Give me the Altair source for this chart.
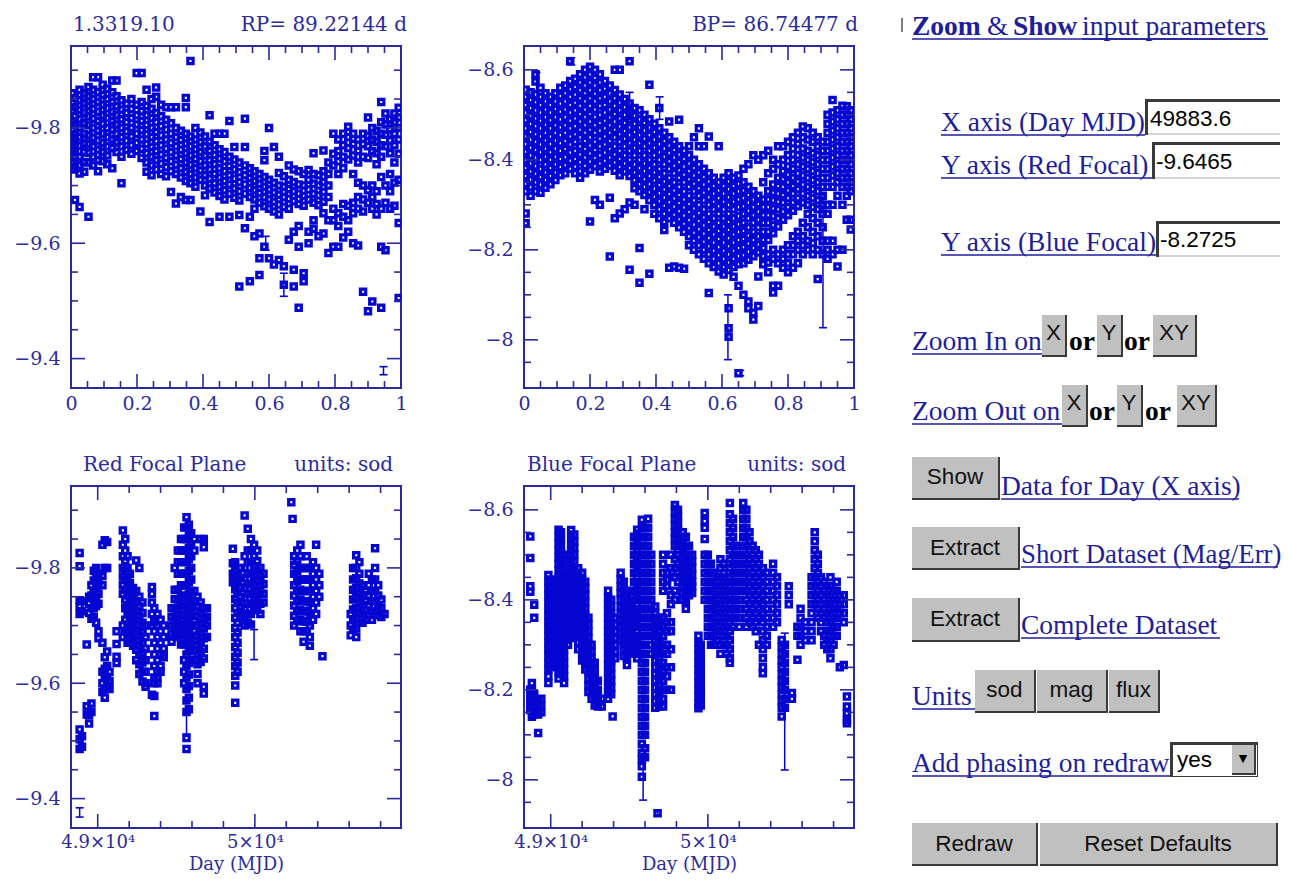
import altair as alt
import pandas as pd

# ---------------------------------------------------------------- data
# phased light curves: (phase, [magnitudes ...])
RED_PHASE = [
    (0.004, [-9.86, -9.845, -9.83, -9.812, -9.797, -9.783, -9.77, -9.756, -9.741, -9.728]),
    (0.012, [-9.852, -9.836, -9.82, -9.806, -9.79, -9.776, -9.762, -9.748, -9.733, -9.675]),
    (0.026, [-9.866, -9.848, -9.831, -9.815, -9.8, -9.784, -9.769, -9.75, -9.735, -9.721, -9.663]),
    (0.04, [-9.86, -9.843, -9.826, -9.808, -9.79, -9.773, -9.758, -9.741, -9.724]),
    (0.053, [-9.871, -9.855, -9.838, -9.82, -9.805, -9.787, -9.772, -9.757, -9.74, -9.646]),
    (0.067, [-9.888, -9.866, -9.85, -9.833, -9.816, -9.8, -9.783, -9.768, -9.75, -9.735]),
    (0.082, [-9.888, -9.862, -9.845, -9.828, -9.812, -9.795, -9.778, -9.762, -9.744, -9.725]),
    (0.096, [-9.875, -9.857, -9.84, -9.822, -9.807, -9.79, -9.774, -9.758, -9.742]),
    (0.11, [-9.868, -9.85, -9.834, -9.817, -9.8, -9.784, -9.768, -9.752, -9.737]),
    (0.125, [-9.882, -9.862, -9.845, -9.828, -9.812, -9.797, -9.78, -9.765, -9.73]),
    (0.138, [-9.882, -9.855, -9.838, -9.822, -9.806, -9.79, -9.775, -9.758]),
    (0.153, [-9.848, -9.832, -9.815, -9.8, -9.784, -9.768, -9.75, -9.704]),
    (0.168, [-9.842, -9.826, -9.81, -9.794, -9.778, -9.762]),
    (0.183, [-9.85, -9.833, -9.817, -9.8, -9.785, -9.77, -9.755]),
    (0.199, [-9.895, -9.84, -9.822, -9.806, -9.79, -9.774, -9.76]),
    (0.214, [-9.895, -9.845, -9.829, -9.812, -9.796, -9.78, -9.764, -9.748]),
    (0.229, [-9.866, -9.838, -9.822, -9.805, -9.789, -9.772, -9.756, -9.74, -9.724]),
    (0.244, [-9.85, -9.833, -9.817, -9.8, -9.784, -9.767, -9.75, -9.735, -9.718]),
    (0.258, [-9.87, -9.854, -9.826, -9.81, -9.793, -9.777, -9.76, -9.744, -9.728]),
    (0.273, [-9.84, -9.82, -9.803, -9.787, -9.77, -9.754, -9.738, -9.72]),
    (0.288, [-9.836, -9.814, -9.797, -9.78, -9.764, -9.748, -9.732, -9.716]),
    (0.303, [-9.836, -9.808, -9.79, -9.774, -9.758, -9.742, -9.725, -9.689]),
    (0.318, [-9.836, -9.8, -9.784, -9.768, -9.752, -9.736, -9.72, -9.669]),
    (0.333, [-9.795, -9.779, -9.762, -9.746, -9.73, -9.714, -9.68]),
    (0.348, [-9.852, -9.836, -9.79, -9.773, -9.756, -9.74, -9.724, -9.708, -9.675]),
    (0.362, [-9.916, -9.785, -9.768, -9.752, -9.736, -9.72, -9.704, -9.675]),
    (0.377, [-9.8, -9.78, -9.763, -9.746, -9.73, -9.714, -9.698]),
    (0.392, [-9.792, -9.775, -9.758, -9.742, -9.726, -9.71, -9.655]),
    (0.406, [-9.785, -9.768, -9.752, -9.735, -9.718, -9.7, -9.683]),
    (0.42, [-9.822, -9.776, -9.76, -9.744, -9.728, -9.712, -9.695, -9.637]),
    (0.435, [-9.79, -9.77, -9.753, -9.737, -9.72, -9.704, -9.688]),
    (0.45, [-9.79, -9.763, -9.747, -9.73, -9.714, -9.698, -9.682, -9.646]),
    (0.465, [-9.79, -9.758, -9.742, -9.725, -9.708, -9.692, -9.676]),
    (0.48, [-9.812, -9.75, -9.734, -9.718, -9.702, -9.686, -9.646]),
    (0.495, [-9.767, -9.745, -9.728, -9.712, -9.695, -9.679]),
    (0.51, [-9.74, -9.723, -9.706, -9.69, -9.674, -9.649, -9.525]),
    (0.527, [-9.816, -9.767, -9.735, -9.718, -9.702, -9.686, -9.626]),
    (0.542, [-9.73, -9.713, -9.696, -9.68, -9.646, -9.534]),
    (0.556, [-9.725, -9.708, -9.692, -9.676, -9.66, -9.612]),
    (0.571, [-9.72, -9.703, -9.687, -9.67, -9.617, -9.574, -9.545]),
    (0.586, [-9.76, -9.744, -9.715, -9.698, -9.68, -9.664, -9.594]),
    (0.6, [-9.8, -9.71, -9.693, -9.676, -9.66, -9.574]),
    (0.615, [-9.767, -9.705, -9.688, -9.672, -9.655, -9.563]),
    (0.63, [-9.75, -9.722, -9.7, -9.684, -9.667, -9.65, -9.571]),
    (0.645, [-9.716, -9.698, -9.68, -9.663, -9.528, -9.56]),
    (0.66, [-9.735, -9.71, -9.694, -9.677, -9.66, -9.606]),
    (0.675, [-9.728, -9.706, -9.69, -9.673, -9.62, -9.554, -9.525]),
    (0.69, [-9.725, -9.702, -9.686, -9.668, -9.63, -9.594, -9.488]),
    (0.705, [-9.72, -9.7, -9.682, -9.665, -9.548, -9.534]),
    (0.72, [-9.727, -9.71, -9.693, -9.676, -9.62, -9.6]),
    (0.735, [-9.756, -9.72, -9.703, -9.686, -9.67, -9.64, -9.625]),
    (0.75, [-9.718, -9.7, -9.683, -9.666, -9.612]),
    (0.765, [-9.761, -9.725, -9.706, -9.689, -9.672, -9.652, -9.617]),
    (0.78, [-9.74, -9.72, -9.7, -9.68, -9.64, -9.583]),
    (0.795, [-9.79, -9.755, -9.735, -9.66, -9.64, -9.594]),
    (0.81, [-9.78, -9.76, -9.742, -9.72, -9.652, -9.63, -9.594]),
    (0.825, [-9.79, -9.77, -9.75, -9.73, -9.668, -9.646, -9.61]),
    (0.84, [-9.802, -9.784, -9.765, -9.745, -9.665, -9.64, -9.62]),
    (0.855, [-9.79, -9.772, -9.752, -9.72, -9.67, -9.652, -9.6]),
    (0.87, [-9.78, -9.76, -9.74, -9.705, -9.68, -9.66, -9.596]),
    (0.885, [-9.79, -9.772, -9.75, -9.7, -9.676, -9.655, -9.516]),
    (0.9, [-9.818, -9.786, -9.768, -9.748, -9.692, -9.67, -9.482]),
    (0.913, [-9.8, -9.78, -9.76, -9.7, -9.68, -9.66, -9.499]),
    (0.926, [-9.795, -9.776, -9.756, -9.737, -9.69, -9.668, -9.65]),
    (0.94, [-9.845, -9.81, -9.79, -9.77, -9.75, -9.715, -9.66, -9.594, -9.488]),
    (0.953, [-9.825, -9.806, -9.788, -9.768, -9.7, -9.67, -9.588]),
    (0.967, [-9.815, -9.798, -9.778, -9.756, -9.72, -9.69, -9.66]),
    (0.98, [-9.825, -9.81, -9.79, -9.77, -9.74, -9.705, -9.665]),
    (0.993, [-9.835, -9.818, -9.8, -9.78, -9.755, -9.71, -9.635, -9.505]),
]

BLUE_PHASE = [
    (0.005, [-8.556, -8.54, -8.522, -8.505, -8.488, -8.47, -8.452, -8.435, -8.418, -8.4, -8.382, -8.364, -8.347, -8.33, -8.281, -8.259]),
    (0.02, [-8.55, -8.533, -8.515, -8.498, -8.48, -8.462, -8.445, -8.427, -8.41, -8.392, -8.374, -8.356, -8.339, -8.32]),
    (0.035, [-8.59, -8.574, -8.545, -8.528, -8.51, -8.492, -8.475, -8.457, -8.44, -8.422, -8.405, -8.386, -8.369, -8.35, -8.33]),
    (0.05, [-8.56, -8.54, -8.522, -8.505, -8.487, -8.47, -8.452, -8.434, -8.417, -8.4, -8.38, -8.362, -8.345, -8.327]),
    (0.065, [-8.548, -8.53, -8.512, -8.495, -8.478, -8.46, -8.443, -8.425, -8.407, -8.39, -8.372, -8.355, -8.338]),
    (0.08, [-8.54, -8.522, -8.505, -8.488, -8.47, -8.452, -8.435, -8.417, -8.4, -8.382, -8.364, -8.346]),
    (0.095, [-8.548, -8.53, -8.513, -8.495, -8.477, -8.46, -8.443, -8.425, -8.407, -8.39, -8.372, -8.355]),
    (0.11, [-8.56, -8.542, -8.525, -8.507, -8.49, -8.472, -8.455, -8.437, -8.42, -8.402, -8.384, -8.366]),
    (0.125, [-8.565, -8.548, -8.53, -8.512, -8.495, -8.477, -8.46, -8.442, -8.424, -8.406, -8.388, -8.37]),
    (0.14, [-8.619, -8.575, -8.557, -8.54, -8.522, -8.505, -8.487, -8.47, -8.452, -8.434, -8.416, -8.398, -8.38]),
    (0.155, [-8.58, -8.562, -8.545, -8.527, -8.51, -8.492, -8.475, -8.457, -8.44, -8.42, -8.402, -8.385, -8.37]),
    (0.17, [-8.59, -8.572, -8.555, -8.537, -8.52, -8.502, -8.485, -8.467, -8.45, -8.43, -8.412, -8.395, -8.375, -8.36]),
    (0.185, [-8.6, -8.583, -8.565, -8.548, -8.53, -8.512, -8.495, -8.477, -8.46, -8.442, -8.424, -8.405, -8.387, -8.37]),
    (0.2, [-8.607, -8.59, -8.572, -8.555, -8.537, -8.52, -8.502, -8.485, -8.467, -8.45, -8.432, -8.414, -8.396, -8.378, -8.263]),
    (0.215, [-8.6, -8.582, -8.565, -8.547, -8.53, -8.512, -8.495, -8.477, -8.46, -8.44, -8.422, -8.404, -8.386, -8.311]),
    (0.23, [-8.59, -8.572, -8.555, -8.537, -8.52, -8.5, -8.482, -8.465, -8.447, -8.43, -8.41, -8.392, -8.374, -8.3]),
    (0.245, [-8.575, -8.558, -8.54, -8.522, -8.505, -8.487, -8.47, -8.452, -8.434, -8.416, -8.398, -8.38]),
    (0.26, [-8.565, -8.548, -8.53, -8.512, -8.494, -8.477, -8.46, -8.442, -8.424, -8.405, -8.387, -8.316, -8.185]),
    (0.275, [-8.6, -8.555, -8.537, -8.52, -8.502, -8.485, -8.467, -8.45, -8.43, -8.412, -8.394, -8.376, -8.27]),
    (0.29, [-8.6, -8.545, -8.527, -8.51, -8.492, -8.474, -8.457, -8.44, -8.42, -8.402, -8.384, -8.366, -8.281]),
    (0.305, [-8.535, -8.517, -8.5, -8.482, -8.464, -8.447, -8.43, -8.41, -8.392, -8.374, -8.29]),
    (0.32, [-8.619, -8.525, -8.508, -8.49, -8.472, -8.455, -8.437, -8.42, -8.4, -8.382, -8.364, -8.305, -8.156]),
    (0.335, [-8.515, -8.498, -8.48, -8.462, -8.445, -8.427, -8.41, -8.39, -8.372, -8.355, -8.337, -8.3]),
    (0.35, [-8.51, -8.49, -8.472, -8.455, -8.437, -8.42, -8.4, -8.382, -8.364, -8.346, -8.33, -8.204, -8.127]),
    (0.365, [-8.5, -8.482, -8.465, -8.447, -8.43, -8.41, -8.392, -8.375, -8.357, -8.34, -8.322, -8.29]),
    (0.38, [-8.567, -8.49, -8.472, -8.455, -8.437, -8.42, -8.4, -8.382, -8.364, -8.346, -8.328, -8.31, -8.147]),
    (0.395, [-8.48, -8.462, -8.445, -8.427, -8.41, -8.39, -8.372, -8.354, -8.336, -8.318, -8.3, -8.28]),
    (0.41, [-8.515, -8.47, -8.452, -8.435, -8.417, -8.4, -8.38, -8.362, -8.344, -8.326, -8.308, -8.29, -8.27]),
    (0.425, [-8.46, -8.442, -8.425, -8.407, -8.39, -8.37, -8.352, -8.334, -8.316, -8.298, -8.28, -8.262, -8.244]),
    (0.44, [-8.485, -8.45, -8.432, -8.415, -8.397, -8.38, -8.36, -8.342, -8.324, -8.306, -8.288, -8.27, -8.16]),
    (0.455, [-8.44, -8.422, -8.405, -8.387, -8.37, -8.35, -8.332, -8.314, -8.296, -8.278, -8.26, -8.163]),
    (0.47, [-8.489, -8.43, -8.412, -8.395, -8.377, -8.36, -8.34, -8.322, -8.304, -8.286, -8.268, -8.25, -8.16]),
    (0.485, [-8.42, -8.402, -8.385, -8.367, -8.35, -8.33, -8.312, -8.294, -8.276, -8.258, -8.24, -8.158]),
    (0.5, [-8.43, -8.41, -8.392, -8.375, -8.357, -8.34, -8.32, -8.302, -8.284, -8.266, -8.248, -8.23, -8.21]),
    (0.515, [-8.45, -8.4, -8.382, -8.365, -8.347, -8.33, -8.31, -8.292, -8.274, -8.256, -8.238, -8.22, -8.2]),
    (0.53, [-8.47, -8.43, -8.39, -8.372, -8.355, -8.337, -8.32, -8.3, -8.282, -8.264, -8.246, -8.228, -8.21, -8.19]),
    (0.545, [-8.43, -8.38, -8.362, -8.345, -8.327, -8.31, -8.29, -8.272, -8.254, -8.236, -8.218, -8.2, -8.18]),
    (0.56, [-8.452, -8.37, -8.352, -8.335, -8.317, -8.3, -8.28, -8.262, -8.244, -8.226, -8.208, -8.19, -8.17, -8.104]),
    (0.575, [-8.36, -8.342, -8.325, -8.307, -8.29, -8.27, -8.252, -8.234, -8.216, -8.198, -8.18, -8.162]),
    (0.59, [-8.43, -8.35, -8.332, -8.315, -8.297, -8.28, -8.26, -8.242, -8.224, -8.206, -8.188, -8.17, -8.152]),
    (0.605, [-8.36, -8.342, -8.325, -8.307, -8.29, -8.27, -8.252, -8.234, -8.216, -8.198, -8.18, -8.162, -8.145]),
    (0.62, [-8.37, -8.352, -8.335, -8.317, -8.3, -8.28, -8.262, -8.244, -8.226, -8.208, -8.19, -8.172, -8.155, -8.07, -8.026, -8.007]),
    (0.635, [-8.36, -8.342, -8.325, -8.307, -8.29, -8.27, -8.252, -8.234, -8.216, -8.198, -8.18, -8.162, -8.14]),
    (0.65, [-8.365, -8.347, -8.33, -8.312, -8.295, -8.275, -8.257, -8.24, -8.222, -8.204, -8.186, -8.168, -8.12, -7.926]),
    (0.665, [-8.38, -8.35, -8.332, -8.315, -8.297, -8.28, -8.26, -8.242, -8.224, -8.206, -8.188, -8.17, -8.1]),
    (0.68, [-8.39, -8.34, -8.322, -8.305, -8.287, -8.27, -8.25, -8.232, -8.214, -8.196, -8.178, -8.085, -8.07]),
    (0.695, [-8.41, -8.33, -8.312, -8.295, -8.277, -8.26, -8.24, -8.222, -8.204, -8.186, -8.06, -8.045]),
    (0.71, [-8.4, -8.32, -8.302, -8.285, -8.267, -8.25, -8.23, -8.212, -8.194, -8.141, -8.075]),
    (0.725, [-8.41, -8.35, -8.312, -8.295, -8.277, -8.26, -8.24, -8.222, -8.204, -8.186, -8.168]),
    (0.74, [-8.42, -8.37, -8.33, -8.312, -8.295, -8.277, -8.26, -8.24, -8.222, -8.19, -8.172, -8.15]),
    (0.755, [-8.4, -8.38, -8.345, -8.327, -8.31, -8.292, -8.275, -8.255, -8.237, -8.2, -8.18, -8.12, -8.105]),
    (0.77, [-8.43, -8.39, -8.36, -8.342, -8.325, -8.307, -8.29, -8.27, -8.252, -8.19, -8.17, -8.12]),
    (0.785, [-8.43, -8.4, -8.375, -8.357, -8.34, -8.322, -8.305, -8.285, -8.267, -8.2, -8.18, -8.16]),
    (0.8, [-8.44, -8.41, -8.385, -8.367, -8.35, -8.332, -8.315, -8.295, -8.277, -8.21, -8.19, -8.17, -8.15]),
    (0.815, [-8.45, -8.425, -8.4, -8.38, -8.36, -8.342, -8.325, -8.305, -8.287, -8.23, -8.21, -8.19, -8.16]),
    (0.83, [-8.46, -8.435, -8.41, -8.39, -8.37, -8.352, -8.335, -8.315, -8.297, -8.24, -8.22, -8.2, -8.17]),
    (0.845, [-8.474, -8.45, -8.425, -8.405, -8.385, -8.365, -8.345, -8.325, -8.305, -8.26, -8.23, -8.21, -8.19]),
    (0.86, [-8.47, -8.445, -8.42, -8.4, -8.38, -8.36, -8.34, -8.32, -8.3, -8.28, -8.25, -8.22, -8.2]),
    (0.875, [-8.46, -8.44, -8.415, -8.395, -8.375, -8.355, -8.335, -8.315, -8.295, -8.27, -8.24, -8.215, -8.19]),
    (0.89, [-8.45, -8.43, -8.41, -8.39, -8.37, -8.35, -8.33, -8.31, -8.29, -8.26, -8.23, -8.2, -8.135]),
    (0.905, [-8.44, -8.42, -8.4, -8.38, -8.36, -8.34, -8.32, -8.3, -8.28, -8.25, -8.22, -8.19]),
    (0.92, [-8.5, -8.48, -8.46, -8.44, -8.42, -8.4, -8.38, -8.36, -8.34, -8.3, -8.28, -8.22, -8.2, -8.18]),
    (0.935, [-8.533, -8.505, -8.485, -8.465, -8.445, -8.425, -8.405, -8.385, -8.365, -8.34, -8.3, -8.22, -8.19]),
    (0.95, [-8.51, -8.49, -8.47, -8.45, -8.43, -8.41, -8.39, -8.37, -8.35, -8.32, -8.2, -8.163]),
    (0.965, [-8.52, -8.5, -8.48, -8.46, -8.44, -8.42, -8.4, -8.38, -8.36, -8.34, -8.3, -8.2]),
    (0.978, [-8.519, -8.5, -8.48, -8.46, -8.44, -8.42, -8.4, -8.38, -8.36, -8.34, -8.32, -8.267]),
    (0.99, [-8.51, -8.49, -8.47, -8.45, -8.43, -8.41, -8.39, -8.37, -8.35, -8.33, -8.267, -8.245]),
]

# light curves against time: (MJD, [magnitudes ...])
RED_TIME = [
    (48885, [-9.826, -9.803, -9.744, -9.733, -9.72, -9.52, -9.503, -9.486]),
    (48900, [-9.742, -9.725, -9.508, -9.49]),
    (48930, [-9.667, -9.56, -9.546]),
    (48945, [-9.75, -9.738, -9.722, -9.545, -9.53]),
    (48960, [-9.77, -9.752, -9.73, -9.712, -9.565, -9.55]),
    (48975, [-9.795, -9.778, -9.76, -9.745, -9.73, -9.715]),
    (48990, [-9.8, -9.783, -9.766, -9.75, -9.734, -9.705]),
    (49005, [-9.79, -9.772, -9.755, -9.738, -9.69, -9.678]),
    (49030, [-9.84, -9.786, -9.77, -9.67, -9.62, -9.6, -9.585]),
    (49045, [-9.848, -9.8, -9.645, -9.625, -9.61, -9.59, -9.575]),
    (49060, [-9.845, -9.8, -9.655, -9.63, -9.61, -9.595]),
    (49075, [-9.62, -9.604, -9.59]),
    (49120, [-9.69, -9.668, -9.646, -9.635]),
    (49160, [-9.865, -9.84, -9.82, -9.8, -9.785, -9.77, -9.755, -9.7, -9.68]),
    (49175, [-9.85, -9.83, -9.812, -9.795, -9.78, -9.762, -9.745, -9.73, -9.71, -9.69]),
    (49190, [-9.82, -9.8, -9.785, -9.77, -9.752, -9.735, -9.72, -9.702, -9.685, -9.67]),
    (49205, [-9.79, -9.774, -9.757, -9.74, -9.722, -9.705, -9.688, -9.67]),
    (49225, [-9.765, -9.748, -9.73, -9.713, -9.696, -9.68, -9.665]),
    (49245, [-9.813, -9.76, -9.742, -9.725, -9.708, -9.69, -9.675, -9.658, -9.64]),
    (49265, [-9.8, -9.75, -9.733, -9.716, -9.7, -9.683, -9.666, -9.65, -9.633, -9.616]),
    (49285, [-9.74, -9.722, -9.705, -9.688, -9.67, -9.653, -9.636, -9.62, -9.603]),
    (49305, [-9.7, -9.68, -9.66, -9.64, -9.62, -9.6, -9.594]),
    (49345, [-9.767, -9.755, -9.74, -9.72, -9.7, -9.58]),
    (49360, [-9.73, -9.706, -9.69, -9.67, -9.65, -9.63, -9.61, -9.6, -9.578, -9.543]),
    (49380, [-9.72, -9.7, -9.68, -9.66, -9.64, -9.62, -9.6, -9.61]),
    (49400, [-9.71, -9.69, -9.67, -9.65, -9.63, -9.62]),
    (49420, [-9.7, -9.68, -9.66, -9.645]),
    (49470, [-9.73, -9.715, -9.7, -9.686, -9.672]),
    (49490, [-9.8, -9.762, -9.746, -9.73, -9.714, -9.698, -9.682]),
    (49510, [-9.83, -9.81, -9.79, -9.762, -9.745, -9.728, -9.712, -9.696, -9.68]),
    (49530, [-9.85, -9.83, -9.81, -9.79, -9.77, -9.752, -9.735, -9.718, -9.7, -9.684, -9.667]),
    (49550, [-9.87, -9.85, -9.83, -9.81, -9.79, -9.77, -9.75, -9.735, -9.718, -9.7, -9.684, -9.667, -9.64, -9.62, -9.6]),
    (49565, [-9.888, -9.87, -9.85, -9.83, -9.81, -9.79, -9.77, -9.75, -9.73, -9.71, -9.69, -9.67, -9.65, -9.63, -9.61, -9.59, -9.57, -9.55, -9.505, -9.486]),
    (49580, [-9.875, -9.855, -9.835, -9.815, -9.795, -9.775, -9.755, -9.735, -9.715, -9.695, -9.675, -9.655, -9.635, -9.615, -9.595, -9.575, -9.555]),
    (49595, [-9.86, -9.84, -9.82, -9.8, -9.78, -9.76, -9.74, -9.72, -9.7, -9.68, -9.66, -9.64]),
    (49615, [-9.85, -9.83, -9.76, -9.742, -9.725, -9.708, -9.69, -9.674, -9.657, -9.64]),
    (49635, [-9.75, -9.733, -9.716, -9.7, -9.683, -9.666, -9.65, -9.633, -9.616, -9.6]),
    (49655, [-9.85, -9.74, -9.722, -9.705, -9.688, -9.671, -9.654, -9.637]),
    (49675, [-9.85, -9.836, -9.73, -9.712, -9.695, -9.678, -9.66, -9.643, -9.594, -9.582]),
    (49695, [-9.73, -9.715, -9.7, -9.68]),
    (49860, [-9.833, -9.808, -9.79, -9.775]),
    (49875, [-9.81, -9.795, -9.78, -9.763, -9.746, -9.73, -9.713, -9.696, -9.68, -9.663, -9.646, -9.63, -9.613, -9.596, -9.566]),
    (49890, [-9.79, -9.775, -9.758, -9.74, -9.722, -9.705, -9.688, -9.67, -9.653, -9.636, -9.62]),
    (49910, [-9.8, -9.783, -9.766, -9.75, -9.733, -9.716]),
    (49935, [-9.891, -9.82, -9.8, -9.782, -9.765, -9.748, -9.73, -9.714, -9.7]),
    (49955, [-9.868, -9.83, -9.81, -9.79, -9.772, -9.755, -9.738, -9.72, -9.705]),
    (49975, [-9.85, -9.83, -9.81, -9.79, -9.772, -9.755, -9.738, -9.72, -9.702]),
    (49995, [-9.84, -9.82, -9.8, -9.785, -9.768, -9.75, -9.73]),
    (50015, [-9.83, -9.812, -9.795, -9.778, -9.76, -9.744, -9.727]),
    (50035, [-9.8, -9.785, -9.77, -9.755, -9.738, -9.72]),
    (50055, [-9.79, -9.772, -9.755, -9.74]),
    (50232, [-9.914]),
    (50240, [-9.885]),
    (50250, [-9.82, -9.805, -9.79, -9.77, -9.752, -9.735, -9.717, -9.7]),
    (50270, [-9.83, -9.812, -9.795, -9.777, -9.76, -9.742, -9.725, -9.708]),
    (50290, [-9.84, -9.82, -9.8, -9.78, -9.762, -9.745, -9.727, -9.71, -9.69]),
    (50310, [-9.8, -9.78, -9.76, -9.742, -9.725, -9.707, -9.69, -9.672]),
    (50330, [-9.82, -9.8, -9.78, -9.76, -9.742, -9.725, -9.707, -9.69]),
    (50350, [-9.8, -9.78, -9.76, -9.74, -9.72, -9.7, -9.68, -9.665]),
    (50370, [-9.81, -9.79, -9.77, -9.75, -9.73, -9.71]),
    (50390, [-9.84, -9.8, -9.78, -9.76, -9.74, -9.72]),
    (50410, [-9.79, -9.77, -9.75]),
    (50430, [-9.647]),
    (50610, [-9.72, -9.7, -9.683]),
    (50625, [-9.8, -9.78, -9.762, -9.745, -9.728, -9.71, -9.693]),
    (50645, [-9.822, -9.8, -9.782, -9.765, -9.748, -9.73, -9.712, -9.695, -9.68]),
    (50665, [-9.81, -9.79, -9.773, -9.756, -9.74, -9.722, -9.705]),
    (50685, [-9.77, -9.753, -9.736, -9.72, -9.705]),
    (50705, [-9.76, -9.743, -9.726, -9.71]),
    (50725, [-9.79, -9.77, -9.752, -9.735, -9.718]),
    (50745, [-9.78, -9.76, -9.742, -9.725, -9.71]),
    (50765, [-9.834, -9.8, -9.78, -9.76, -9.742, -9.725]),
    (50785, [-9.77, -9.752, -9.735, -9.718]),
    (50805, [-9.745, -9.73, -9.715]),
    (50825, [-9.72]),
]

BLUE_TIME = [
    (48870, [-8.541, -8.493, -8.43, -8.418, -8.2, -8.185, -8.17, -8.155]),
    (48880, [-8.215, -8.2, -8.185, -8.17, -8.155, -8.14]),
    (48895, [-8.389, -8.36, -8.19, -8.175, -8.16, -8.145]),
    (48920, [-8.176, -8.16, -8.145, -8.104]),
    (48940, [-8.18, -8.165, -8.15]),
    (48985, [-8.455, -8.44, -8.425, -8.41, -8.395, -8.38, -8.365, -8.35, -8.335, -8.32, -8.305, -8.29, -8.275, -8.26, -8.245, -8.23, -8.215]),
    (49000, [-8.445, -8.43, -8.415, -8.4, -8.385, -8.37, -8.355, -8.34, -8.325, -8.31, -8.295, -8.28, -8.265, -8.25]),
    (49015, [-8.42, -8.4, -8.38, -8.36, -8.34, -8.32, -8.3]),
    (49050, [-8.556, -8.54, -8.525, -8.51, -8.495, -8.48, -8.465, -8.45, -8.435, -8.42, -8.405, -8.39, -8.375, -8.36, -8.345, -8.33, -8.315, -8.3, -8.285, -8.27, -8.255, -8.24, -8.225]),
    (49065, [-8.55, -8.535, -8.52, -8.505, -8.49, -8.475, -8.46, -8.445, -8.43, -8.415, -8.4, -8.385, -8.37, -8.355, -8.34, -8.325, -8.31, -8.295, -8.28, -8.265, -8.25, -8.235]),
    (49085, [-8.5, -8.485, -8.47, -8.455, -8.44, -8.425, -8.41, -8.395, -8.38, -8.365, -8.35, -8.335, -8.32, -8.305, -8.29, -8.275, -8.26, -8.245, -8.23, -8.215]),
    (49110, [-8.45, -8.435, -8.42, -8.405, -8.39, -8.375, -8.36, -8.345, -8.33, -8.315, -8.3]),
    (49130, [-8.555, -8.54, -8.525, -8.51, -8.495, -8.48, -8.465, -8.45, -8.435, -8.42, -8.405, -8.39, -8.375, -8.36, -8.345, -8.33, -8.315]),
    (49150, [-8.545, -8.53, -8.515, -8.5, -8.485, -8.47, -8.455, -8.44, -8.425, -8.41, -8.395, -8.38, -8.365, -8.35, -8.335, -8.32]),
    (49175, [-8.47, -8.455, -8.44, -8.425, -8.41, -8.395, -8.38, -8.365, -8.35, -8.335, -8.32, -8.305, -8.29]),
    (49200, [-8.46, -8.445, -8.43, -8.415, -8.4, -8.385, -8.37, -8.355, -8.34, -8.325, -8.31, -8.295, -8.28, -8.265]),
    (49220, [-8.44, -8.425, -8.41, -8.395, -8.38, -8.365, -8.35, -8.335, -8.32, -8.305, -8.29, -8.275, -8.26, -8.245]),
    (49240, [-8.36, -8.345, -8.33, -8.315, -8.3, -8.285, -8.27, -8.255, -8.24, -8.225, -8.21, -8.195]),
    (49260, [-8.3, -8.285, -8.27, -8.255, -8.24, -8.225, -8.21, -8.195, -8.18]),
    (49280, [-8.26, -8.245, -8.23, -8.215, -8.2, -8.185, -8.165]),
    (49300, [-8.22, -8.2, -8.185, -8.17, -8.163]),
    (49325, [-8.18, -8.163]),
    (49365, [-8.42, -8.405, -8.39, -8.375, -8.36, -8.345, -8.33, -8.315, -8.3, -8.285, -8.27, -8.255, -8.24, -8.225, -8.21, -8.195, -8.18]),
    (49385, [-8.4, -8.385, -8.37, -8.355, -8.34, -8.325, -8.31, -8.295, -8.28, -8.265, -8.25, -8.235, -8.22, -8.205, -8.19]),
    (49394, [-8.141]),
    (49410, [-8.36, -8.345, -8.33, -8.315, -8.3, -8.285, -8.27]),
    (49445, [-8.46, -8.445, -8.43, -8.415, -8.4, -8.385, -8.37, -8.355, -8.34, -8.325, -8.31]),
    (49465, [-8.44, -8.425, -8.41, -8.395, -8.38, -8.365, -8.35, -8.335, -8.32, -8.305, -8.29, -8.275]),
    (49485, [-8.42, -8.405, -8.39, -8.375, -8.36, -8.345, -8.33, -8.315, -8.3, -8.285, -8.27, -8.255]),
    (49505, [-8.4, -8.385, -8.37, -8.355, -8.34, -8.325, -8.31, -8.295, -8.28]),
    (49530, [-8.54, -8.52, -8.5, -8.48, -8.46, -8.44, -8.42, -8.4, -8.38, -8.36, -8.34, -8.32, -8.3, -8.28]),
    (49550, [-8.556, -8.54, -8.525, -8.51, -8.495, -8.48, -8.465, -8.45, -8.435, -8.42, -8.405, -8.39, -8.375, -8.36, -8.345, -8.33, -8.315, -8.3, -8.285, -8.27]),
    (49580, [-8.578, -8.56, -8.54, -8.52, -8.5, -8.48, -8.46, -8.44, -8.42, -8.4, -8.38, -8.36, -8.34, -8.32, -8.3, -8.28, -8.26, -8.24, -8.22, -8.2, -8.18, -8.16, -8.14, -8.12, -8.1, -8.08, -8.06, -8.045, -8.03, -8.007]),
    (49600, [-8.56, -8.54, -8.52, -8.5, -8.48, -8.46, -8.44, -8.42, -8.4, -8.38, -8.36, -8.34, -8.32, -8.3, -8.28, -8.26, -8.24, -8.22, -8.2, -8.18, -8.16, -8.14, -8.12, -8.1, -8.07, -8.05]),
    (49620, [-8.58, -8.56, -8.54, -8.52, -8.5, -8.48, -8.46, -8.44, -8.42, -8.4, -8.38, -8.36, -8.34, -8.32]),
    (49640, [-8.5, -8.48, -8.46, -8.44, -8.42, -8.4, -8.38, -8.36, -8.34, -8.32, -8.3, -8.28]),
    (49665, [-8.385, -8.37, -8.355, -8.34, -8.325, -8.31, -8.295, -8.28, -8.265, -8.25, -8.235, -8.22, -8.205, -8.19, -8.175, -8.16]),
    (49680, [-7.926]),
    (49690, [-8.36, -8.345, -8.33, -8.315, -8.3, -8.285, -8.27, -8.255, -8.24, -8.225, -8.21, -8.195, -8.18, -8.163]),
    (49715, [-8.5, -8.48, -8.46, -8.44, -8.42, -8.36, -8.34, -8.32, -8.3, -8.28, -8.26, -8.24, -8.22, -8.2, -8.18, -8.163]),
    (49740, [-8.46, -8.445, -8.43, -8.37, -8.35, -8.33, -8.3, -8.28, -8.25, -8.23, -8.2]),
    (49765, [-8.5, -8.47, -8.41, -8.39, -8.35, -8.33, -8.29, -8.25, -8.2]),
    (49790, [-8.611, -8.595, -8.58, -8.565, -8.55, -8.535, -8.52, -8.49, -8.47, -8.45, -8.42, -8.4]),
    (49810, [-8.6, -8.585, -8.57, -8.555, -8.54, -8.525, -8.51, -8.5, -8.48, -8.46, -8.44]),
    (49840, [-8.55, -8.535, -8.52, -8.505, -8.49, -8.475, -8.46, -8.445, -8.43, -8.415, -8.4]),
    (49860, [-8.54, -8.52, -8.5, -8.485, -8.47, -8.455, -8.44, -8.425, -8.41, -8.395, -8.38]),
    (49880, [-8.52, -8.5, -8.485, -8.47, -8.455, -8.44, -8.425, -8.41]),
    (49900, [-8.5, -8.485, -8.47, -8.455, -8.44, -8.43, -8.415]),
    (49940, [-8.32, -8.305, -8.29, -8.275, -8.26, -8.245, -8.23, -8.215, -8.2, -8.185, -8.17, -8.159]),
    (49955, [-8.3, -8.285, -8.27, -8.255, -8.24, -8.225, -8.21, -8.195, -8.18, -8.165]),
    (49980, [-8.593, -8.575, -8.56, -8.535, -8.5, -8.48, -8.46, -8.44, -8.42, -8.4]),
    (50000, [-8.5, -8.48, -8.46, -8.44, -8.42, -8.4, -8.38, -8.36, -8.34, -8.32]),
    (50020, [-8.48, -8.46, -8.44, -8.42, -8.4, -8.38, -8.36, -8.34, -8.32, -8.3]),
    (50040, [-8.46, -8.44, -8.42, -8.4, -8.38, -8.36, -8.34, -8.32, -8.3]),
    (50060, [-8.45, -8.43, -8.41, -8.39, -8.37, -8.35, -8.33, -8.31]),
    (50080, [-8.49, -8.47, -8.45, -8.43, -8.41, -8.39, -8.37, -8.35, -8.33, -8.3, -8.28]),
    (50100, [-8.48, -8.46, -8.44, -8.42, -8.4, -8.38, -8.36, -8.34, -8.32, -8.3]),
    (50120, [-8.44, -8.42, -8.4, -8.38, -8.36, -8.34, -8.32, -8.3, -8.28]),
    (50140, [-8.615, -8.59, -8.57, -8.55, -8.53, -8.51, -8.49, -8.47, -8.45, -8.43, -8.41, -8.39, -8.37, -8.35, -8.33, -8.31, -8.29, -8.27, -8.26]),
    (50160, [-8.58, -8.56, -8.54, -8.52, -8.5, -8.48, -8.46, -8.44, -8.42, -8.4, -8.38, -8.36, -8.34]),
    (50180, [-8.52, -8.5, -8.48, -8.46, -8.44, -8.42, -8.4, -8.38, -8.36]),
    (50200, [-8.5, -8.48, -8.46, -8.44, -8.42, -8.4, -8.38, -8.36, -8.34]),
    (50225, [-8.615, -8.6, -8.58, -8.56, -8.54, -8.52, -8.5, -8.48, -8.46, -8.44, -8.42]),
    (50245, [-8.6, -8.58, -8.56, -8.54, -8.52, -8.5, -8.48, -8.46, -8.44, -8.42, -8.4, -8.38, -8.36, -8.34]),
    (50265, [-8.55, -8.53, -8.51, -8.49, -8.47, -8.45, -8.43, -8.41, -8.39, -8.37, -8.35]),
    (50285, [-8.52, -8.5, -8.48, -8.46, -8.44, -8.42, -8.4, -8.38, -8.36, -8.34]),
    (50305, [-8.51, -8.49, -8.47, -8.45, -8.43, -8.41, -8.39, -8.37, -8.35, -8.33]),
    (50325, [-8.5, -8.48, -8.46, -8.44, -8.42, -8.4, -8.38, -8.36, -8.3]),
    (50350, [-8.47, -8.45, -8.43, -8.41, -8.39, -8.37, -8.35, -8.33, -8.31, -8.29, -8.27, -8.25, -8.237]),
    (50375, [-8.46, -8.44, -8.42, -8.4, -8.38, -8.36, -8.34, -8.32, -8.3]),
    (50415, [-8.48, -8.46, -8.44, -8.42, -8.4, -8.38, -8.36, -8.34]),
    (50440, [-8.45, -8.43, -8.41, -8.39, -8.37, -8.35]),
    (50470, [-8.311, -8.295, -8.28, -8.265, -8.25, -8.235, -8.22, -8.205, -8.19, -8.175, -8.16, -8.141]),
    (50490, [-8.3, -8.28, -8.26, -8.24, -8.22, -8.2, -8.18, -8.16]),
    (50515, [-8.43, -8.41, -8.39]),
    (50535, [-8.193, -8.18]),
    (50570, [-8.267, -8.34, -8.32]),
    (50590, [-8.38, -8.36, -8.34, -8.32, -8.3]),
    (50620, [-8.35, -8.33, -8.31]),
    (50660, [-8.45, -8.43, -8.41, -8.39, -8.37, -8.35, -8.33, -8.31]),
    (50680, [-8.55, -8.53, -8.51, -8.49, -8.47, -8.45, -8.43, -8.41, -8.39]),
    (50700, [-8.5, -8.48, -8.46, -8.44, -8.42, -8.4, -8.38, -8.36]),
    (50720, [-8.45, -8.43, -8.41, -8.39, -8.37, -8.35, -8.33]),
    (50740, [-8.44, -8.42, -8.4, -8.38, -8.36, -8.32, -8.3]),
    (50760, [-8.43, -8.41, -8.39, -8.37, -8.35, -8.33, -8.31, -8.29]),
    (50780, [-8.45, -8.43, -8.41, -8.39, -8.37, -8.35, -8.33, -8.31, -8.29, -8.27]),
    (50800, [-8.42, -8.4, -8.38, -8.36, -8.34, -8.32, -8.3]),
    (50820, [-8.44, -8.42, -8.4, -8.38, -8.36, -8.34, -8.32]),
    (50840, [-8.41, -8.39, -8.37, -8.25]),
    (50865, [-8.41, -8.39, -8.37, -8.35, -8.255]),
    (50885, [-8.185, -8.163, -8.148, -8.133, -8.126]),
]

# error bars: (x, magnitude, error)
RED_PHASE_ERR = [(0.645, -9.528, 0.02), (0.947, -9.379, 0.007), (0.59, -9.6, 0.012)]
BLUE_PHASE_ERR = [(0.906, -8.175, 0.148), (0.618, -8.028, 0.072), (0.32, -8.52, 0.03),
                  (0.411, -8.515, 0.025), (0.038, -8.574, 0.02), (0.143, -8.619, 0.008),
                  (0.655, -7.926, 0.006)]
RED_TIME_ERR = [(49995, -9.667, 0.026), (49565, -9.53, 0.018), (48885, -9.376, 0.008)]
BLUE_TIME_ERR = [(49588, -8.0, 0.045), (50489, -8.174, 0.152), (50032, -8.37, 0.067),
                 (49550, -8.52, 0.035), (49680, -7.926, 0.006), (49792, -8.58, 0.03)]

# axes
PHASE_DOMAIN = [0, 1]
MJD_DOMAIN = [48830, 50930]
RED_DOMAIN = [-9.942, -9.349]
BLUE_DOMAIN = [-8.653, -7.893]
PHASE_MAJOR = [0, 0.2, 0.4, 0.6, 0.8, 1]
PHASE_MINOR = [0.05, 0.1, 0.15, 0.25, 0.3, 0.35, 0.45, 0.5, 0.55, 0.65, 0.7, 0.75, 0.85, 0.9, 0.95]
MJD_MAJOR = [49000, 50000]
MJD_MINOR = [49200, 49400, 49600, 49800, 50200, 50400, 50600, 50800]
MJD_LABELS = "datum.value < 49500 ? '4.9×10⁴' : '5×10⁴'"
RED_MAJOR = [-9.8, -9.6, -9.4]
RED_MINOR = [-9.9, -9.85, -9.75, -9.7, -9.65, -9.55, -9.5, -9.45]
BLUE_MAJOR = [-8.6, -8.4, -8.2, -8.0]
BLUE_MINOR = [-8.55, -8.5, -8.45, -8.35, -8.3, -8.25, -8.15, -8.1, -8.05, -7.95]

TITLES_A = [("1.3319.10", "left", 2), ("RP= 89.22144 d", "right", 336)]
TITLES_B = [("BP= 86.74477 d", "right", 334)]
TITLES_C = [("Red Focal Plane", "left", 12), ("units: sod", "right", 322)]
TITLES_D = [("Blue Focal Plane", "left", 3), ("units: sod", "right", 322)]
X_TITLE = "Day (MJD)"

# ----------------------------------------------------- form panel text
LINKS = [  # text, left, baseline, underline end, font size
    ("input parameters", 1082, 35, 1268, 27.5),
    ("X axis (Day MJD)", 941, 131, 1145, 27.5),
    ("Y axis (Red Focal)", 941, 174, 1152, 27.5),
    ("Y axis (Blue Focal)", 941, 251, 1156, 27.5),
    ("Zoom In on", 912, 350, 1042, 27.5),
    ("Zoom Out on", 912, 420, 1062, 27.5),
    ("Data for Day (X axis)", 1001, 495, 1239, 27.5),
    ("Short Dataset (Mag/Err)", 1021, 563, 1278, 26.8),
    ("Complete Dataset", 1021, 634, 1220, 27.5),
    ("Units", 912, 705, 975, 27.5),
    ("Add phasing on redraw", 912, 772, 1170, 27.5),
]
HEADER_BOLD = [("Zoom", 912, 35), ("Show", 1013, 35)]
HEADER_AMP = [("&", 987, 35, 0, 27.5)]
HEADER_LINE = [(912, 1268, 39)]
OR_WORDS = [("or", 1069, 350), ("or", 1124, 350), ("or", 1089, 420), ("or", 1145, 420)]
BUTTONS = [  # label, x, y, x2, y2, text centre y
    ("X", 1042, 315, 1067, 357, 333), ("Y", 1097, 315, 1123, 357, 333),
    ("XY", 1153, 315, 1197, 357, 333),
    ("X", 1062, 385, 1088, 427, 403), ("Y", 1117, 385, 1143, 427, 403),
    ("XY", 1177, 385, 1217, 427, 403),
    ("Show", 912, 457, 1000, 500, 477),
    ("Extract", 912, 527, 1020, 570, 548),
    ("Extract", 912, 598, 1020, 642, 619),
    ("sod", 975, 670, 1036, 713, 690), ("mag", 1037, 670, 1108, 713, 690),
    ("flux", 1109, 670, 1160, 713, 690),
    ("Redraw", 912, 823, 1038, 866, 844),
    ("Reset Defaults", 1040, 823, 1278, 866, 844),
]
INPUT_BOXES = [(1145, 99, 1280, 135), (1152, 142, 1280, 179), (1156, 221, 1280, 257)]
INPUT_TEXT = [("49883.6", 1150, 119), ("-9.6465", 1156, 162), ("-8.2725", 1160, 240), ("yes", 1177, 760)]
SELECT_BOX = (1170, 742, 1258, 777)
SELECT_ARROW = (1232, 745, 1256, 775)

# ------------------------------------------------------------- styling
W, H = 330, 342
FW = 300
PT = "#0606d2"
INK = "#2b2b9e"
LINK = "#1e1e9c"
SERIF = "DejaVu Serif"
DARK, FACE, LIGHT = "#3a3a3a", "#c0c0c0", "#d4d4d4"


def cloud(cols):
    return pd.DataFrame([{"x": x, "y": y} for x, ys in cols for y in ys])


def panel(cols, errs, xdom, ydom, xmaj, xmin, ymaj, ymin, xaxis, titles):
    sx = alt.Scale(domain=xdom, nice=False, zero=False)
    sy = alt.Scale(domain=ydom, nice=False, zero=False, reverse=True)
    yaxis = alt.Axis(values=ymaj, format="~g", ticks=False, domain=False, grid=False,
                     labelFont=SERIF, labelFontSize=19, labelColor=INK, labelPadding=11,
                     labelFlush=False, labelOverlap=False, title=None)
    XE = alt.X("x:Q", scale=sx, axis=xaxis)
    YE = alt.Y("y:Q", scale=sy, axis=yaxis)
    pts = alt.Chart(cloud(cols)).mark_point(
        shape="square", filled=False, color=PT, strokeWidth=3.2, size=28, opacity=1, clip=True
    ).encode(x=XE, y=YE)
    err_df = pd.DataFrame([{"x": x, "y": y - e, "y2": y + e} for x, y, e in errs])
    cap_df = pd.DataFrame([{"x": x, "x2": x, "y": v} for x, y, e in errs for v in (y - e, y + e)])
    bars = alt.Chart(err_df).mark_rule(color=PT, strokeWidth=1.5).encode(x=XE, y=YE, y2="y2:Q")
    caps = alt.Chart(cap_df).mark_rule(color=PT, strokeWidth=1.6, xOffset=-4, x2Offset=4).encode(
        x=XE, x2="x2:Q", y=YE)
    layers = [pts, bars, caps]
    for vals, L in ((xmaj, 14), (xmin, 7)):
        base = alt.Chart(pd.DataFrame({"x": vals})).mark_rule(color=INK, strokeWidth=1.6)
        layers.append(base.encode(x=XE, y=alt.value(H), y2=alt.value(H - L)))
        layers.append(base.encode(x=XE, y=alt.value(0), y2=alt.value(L)))
    for vals, L in ((ymaj, 14), (ymin, 7)):
        base = alt.Chart(pd.DataFrame({"y": vals})).mark_rule(color=INK, strokeWidth=1.6)
        layers.append(base.encode(y=YE, x=alt.value(0), x2=alt.value(L)))
        layers.append(base.encode(y=YE, x=alt.value(W), x2=alt.value(W - L)))
    for text, align, px in titles:
        layers.append(
            alt.Chart(pd.DataFrame({"t": [text]})).mark_text(
                align=align, baseline="middle", font=SERIF, fontSize=20, color=INK
            ).encode(x=alt.value(px), y=alt.value(-21), text="t:N"))
    return alt.layer(*layers).properties(
        width=W, height=H, view=alt.ViewBackground(stroke=INK, strokeWidth=2))


def phase_axis():
    return alt.Axis(values=PHASE_MAJOR, format="~g", ticks=False, domain=False, grid=False,
                    labelFont=SERIF, labelFontSize=19, labelColor=INK, labelPadding=6,
                    labelFlush=False, labelOverlap=False, title=None)


def time_axis():
    return alt.Axis(values=MJD_MAJOR, labelExpr=MJD_LABELS, ticks=False, domain=False, grid=False,
                    labelFont=SERIF, labelFontSize=18, labelColor=INK, labelPadding=5,
                    labelFlush=False, labelOverlap=False, title=X_TITLE, titleFont=SERIF,
                    titleFontSize=18, titleFontWeight="normal", titleColor=INK, titlePadding=4)


A = panel(RED_PHASE, RED_PHASE_ERR, PHASE_DOMAIN, RED_DOMAIN, PHASE_MAJOR, PHASE_MINOR,
          RED_MAJOR, RED_MINOR, phase_axis(), TITLES_A)
B = panel(BLUE_PHASE, BLUE_PHASE_ERR, PHASE_DOMAIN, BLUE_DOMAIN, PHASE_MAJOR, PHASE_MINOR,
          BLUE_MAJOR, BLUE_MINOR, phase_axis(), TITLES_B)
C = panel(RED_TIME, RED_TIME_ERR, MJD_DOMAIN, RED_DOMAIN, MJD_MAJOR, MJD_MINOR,
          RED_MAJOR, RED_MINOR, time_axis(), TITLES_C)
D = panel(BLUE_TIME, BLUE_TIME_ERR, MJD_DOMAIN, BLUE_DOMAIN, MJD_MAJOR, MJD_MINOR,
          BLUE_MAJOR, BLUE_MINOR, time_axis(), TITLES_D)

# ------------------------------------------------------------ form panel
# page coordinates, mapped onto the third grid cell (its plot area starts at 977, 46)
SXF = alt.Scale(domain=[977, 977 + FW], range=[0, FW])
SYF = alt.Scale(domain=[46, 388], range=[0, 342])
FX = alt.X("x:Q", scale=SXF, axis=None)
FY = alt.Y("y:Q", scale=SYF, axis=None)

rects = []
for x, y, x2, y2 in INPUT_BOXES:
    rects += [(x, y, x2, y2, DARK), (x + 3, y + 3, x2, y2, "white"), (x + 3, y2 - 2, x2, y2, LIGHT)]
sx0, sy0, sx1, sy1 = SELECT_BOX
rects += [(sx0, sy0, sx1, sy1, DARK), (sx0 + 3, sy0 + 3, sx1 - 1, sy1 - 1, "white")]
ax0, ay0, ax1, ay1 = SELECT_ARROW
rects += [(ax0, ay0, ax1, ay1, DARK), (ax0, ay0, ax1 - 2, ay1 - 2, FACE)]
for lab, x, y, x2, y2, ty in BUTTONS:
    rects += [(x, y, x2, y2, DARK), (x, y, x2 - 2, y2 - 2, FACE)]
rect_df = pd.DataFrame(rects, columns=["x", "y", "x2", "y2", "fill"])

spacer = alt.Chart(pd.DataFrame({"x": [8], "x2": [1280], "y": [8], "y2": [874]})).mark_rect(
    fill="white", fillOpacity=0, strokeWidth=0).encode(x=FX, x2="x2:Q", y=FY, y2="y2:Q")
rect_layer = alt.Chart(rect_df).mark_rect().encode(
    x=FX, x2="x2:Q", y=FY, y2="y2:Q", color=alt.Color("fill:N", scale=None))

lines = [(x, x2, y + 4) for t, x, y, x2, s in LINKS] + [(a, b, c) for a, b, c in HEADER_LINE]
line_df = pd.DataFrame(lines, columns=["x", "x2", "y"])
line_layer = alt.Chart(line_df).mark_rule(color=LINK, strokeWidth=1.5).encode(x=FX, x2="x2:Q", y=FY)
bar_layer = alt.Chart(pd.DataFrame({"x": [902], "y": [18], "y2": [32]})).mark_rule(
    color="#555555", strokeWidth=1.5).encode(x=FX, y=FY, y2="y2:Q")


def text_layer(rows, **style):
    df = pd.DataFrame(rows, columns=["t", "x", "y"])
    return alt.Chart(df).mark_text(**style).encode(x=FX, y=FY, text="t:N")


link_df = pd.DataFrame([(t, x, y, s) for t, x, y, x2, s in LINKS] +
                       [(t, x, y, s) for t, x, y, _, s in HEADER_AMP], columns=["t", "x", "y", "s"])
link_layer = alt.Chart(link_df).mark_text(
    align="left", baseline="alphabetic", font="Liberation Serif", color=LINK
).encode(x=FX, y=FY, text="t:N", size=alt.Size("s:Q", scale=None))
bold_layer = text_layer(HEADER_BOLD, align="left", baseline="alphabetic", font="Liberation Serif",
                        fontSize=27.5, fontWeight="bold", color=LINK)
or_layer = text_layer(OR_WORDS, align="left", baseline="alphabetic", font="Liberation Serif",
                      fontSize=27.5, fontWeight="bold", color="#000000")
btn_layer = text_layer([(lab, (x + x2 - 2) / 2, ty) for lab, x, y, x2, y2, ty in BUTTONS],
                       align="center", baseline="middle", font="Liberation Sans",
                       fontSize=22.5, color="#111111")
inp_layer = text_layer(INPUT_TEXT, align="left", baseline="middle", font="Liberation Sans",
                       fontSize=22.5, color="#000000")
arrow_layer = text_layer([("▼", (ax0 + ax1 - 2) / 2, (ay0 + ay1 - 2) / 2)], align="center",
                         baseline="middle", font="DejaVu Sans", fontSize=11, color="#000000")

FORM = alt.layer(spacer, rect_layer, line_layer, bar_layer, link_layer, bold_layer, or_layer,
                 btn_layer, inp_layer, arrow_layer).properties(
    width=FW, height=H, view=alt.ViewBackground(strokeWidth=0))

chart = alt.concat(
    A, B, FORM, C, D, columns=3, spacing={"row": 98, "column": 123},
    bounds="flush", align="each"
).properties(padding=0).configure_view(stroke="transparent")

chart.save("out.html", embed_options={"renderer": "svg", "actions": False})
